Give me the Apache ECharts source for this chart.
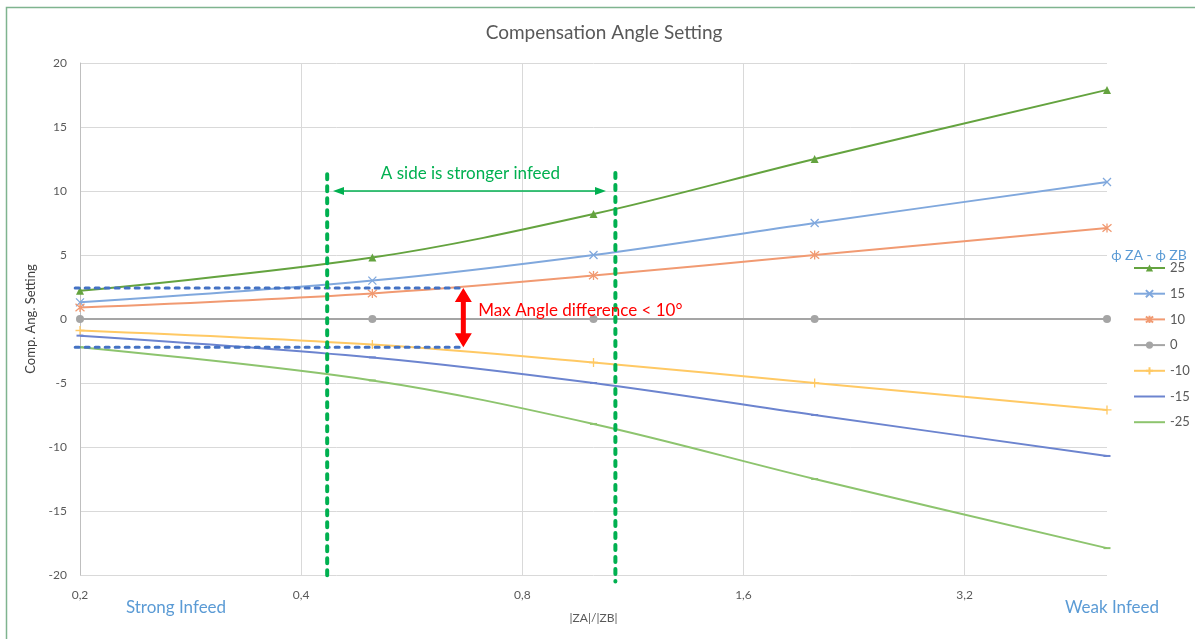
<!DOCTYPE html>
<html>
<head>
<meta charset="utf-8">
<script src="https://cdn.jsdelivr.net/npm/echarts@6/dist/echarts.min.js"></script>
<style>
html,body{margin:0;padding:0;background:#fff;}
#c{width:1195px;height:639px;}
</style>
</head>
<body>
<div id="c"></div>
<script>
// ---- data ----
const xValues = [0.2, 0.5, 1, 2, 5];
const seriesNames = ['25', '15', '10', '0', '-10', '-15', '-25'];
const s25  = [2.2, 4.8, 8.2, 12.5, 17.9];
const s15  = [1.3, 3.0, 5.0, 7.5, 10.7];
const s10  = [0.9, 2.0, 3.4, 5.0, 7.1];
const s0   = [0, 0, 0, 0, 0];
const sm10 = [-0.9, -2.0, -3.4, -5.0, -7.1];
const sm15 = [-1.3, -3.0, -5.0, -7.5, -10.7];
const sm25 = [-2.2, -4.8, -8.2, -12.5, -17.9];
const xTickBase = 0.2;   // ticks at 0,2 0,4 0,8 1,6 3,2 (log base 2)
const xMax = 5;
const yMin = -20, yMax = 20, yStep = 5;

// annotations (data coordinates)
const greenVLines = [{x: 0.434, top: 11.3, bottom: -20.5}, {x: 1.071, top: 11.4, bottom: -20.5}];
const greenArrow = {x1: 0.442, x2: 1.04, y: 10};
const greenText = {x: 0.68, y: 11.4, text: 'A side is stronger infeed'};
const blueHLines = [{x1: 0.197, x2: 0.665, y: 2.42}, {x1: 0.197, x2: 0.665, y: -2.2}];
const redArrow = {x: 0.665, y1: 2.42, y2: -2.2};
const redText = {x: 0.697, y: 0.7, text: 'Max Angle difference < 10°'};

const tx = x => Math.log2(x / xTickBase);

const FONT = 'Lato, "Open Sans", sans-serif';
const colors = ['#64A33F', '#80A8DD', '#F19A72', '#A5A5A5', '#FFC964', '#6C84CF', '#8DC46E'];
const X_PATH = 'path://M0,0L10,10M10,0L0,10';
const STAR_PATH = 'path://M0,0L10,10M10,0L0,10M5,-1L5,11';
const PLUS_PATH = 'path://M5,0L5,10M0,5L10,5';
const LINE_ICON = 'path://M0,0L31,0L31,2L0,2Z';
const symbols = [
  {symbol: 'triangle', size: 8},
  {symbol: X_PATH, size: 8, stroke: true},
  {symbol: STAR_PATH, size: 9, stroke: true},
  {symbol: 'circle', size: 8},
  {symbol: PLUS_PATH, size: 9, stroke: true},
  {symbol: 'rect', size: [7, 2], legendIcon: LINE_ICON},
  {symbol: 'rect', size: [7, 2], legendIcon: LINE_ICON}
];
const allVals = [s25, s15, s10, s0, sm10, sm15, sm25];

const chart = echarts.init(document.getElementById('c'), null, {renderer: 'canvas'});

const series = allVals.map((vals, i) => {
  const sym = symbols[i];
  const itemStyle = sym.stroke
    ? {color: colors[i], borderColor: colors[i], borderWidth: 1.3}
    : {color: colors[i]};
  return {
    name: seriesNames[i],
    type: 'line',
    smooth: 0.35,
    data: xValues.map((x, j) => [tx(x), vals[j]]),
    symbol: sym.symbol,
    symbolSize: sym.size,
    showSymbol: true,
    lineStyle: {color: colors[i], width: 2},
    itemStyle: itemStyle,
    emphasis: {disabled: true},
    animation: false,
    z: 3
  };
});

chart.setOption({
  animation: false,
  grid: {left: 80, right: 88, top: 63, bottom: 64, containLabel: false},
  legend: {
    orient: 'vertical', left: 1128, top: 256.5,
    itemWidth: 31, itemHeight: 9, itemGap: 12.7,
    data: seriesNames.map((n, i) => symbols[i].legendIcon ? {name: n, icon: symbols[i].legendIcon} : {name: n}),
    textStyle: {fontFamily: FONT, fontSize: 13, color: '#595959'},
    selectedMode: false
  },
  xAxis: {
    type: 'value', min: 0, max: tx(xMax), interval: 1,
    name: '|ZA|/|ZB|', nameLocation: 'middle', nameGap: 37,
    nameTextStyle: {fontFamily: FONT, fontSize: 12, color: '#595959'},
    axisLine: {show: false, onZero: false},
    axisTick: {show: false},
    axisLabel: {
      fontFamily: FONT, fontSize: 12, color: '#595959', margin: 14,
      showMaxLabel: false,
      formatter: v => (xTickBase * Math.pow(2, v)).toFixed(1).replace('.', ',')
    },
    splitLine: {show: true, showMaxLine: false, lineStyle: {color: '#d9d9d9', width: 1}}
  },
  yAxis: {
    type: 'value', min: yMin, max: yMax, interval: yStep,
    name: 'Comp. Ang. Setting', nameLocation: 'middle', nameGap: 43,
    nameTextStyle: {fontFamily: FONT, fontSize: 13, color: '#404040'},
    axisLine: {show: true, onZero: false, lineStyle: {color: '#bfbfbf', width: 1}},
    axisTick: {show: false},
    axisLabel: {fontFamily: FONT, fontSize: 12, color: '#595959', margin: 13},
    splitLine: {show: true, lineStyle: {color: '#d9d9d9', width: 1}}
  },
  series: series
});

const px = (x, y) => chart.convertToPixel({gridIndex: 0}, [tx(x), y]);

const graphics = [];
// outer border
graphics.push({type: 'rect', shape: {x: 6.5, y: 7.5, width: 1400, height: 1000},
  style: {fill: null, stroke: '#7FB48F', lineWidth: 1.5}, z: 0, silent: true});
// title
graphics.push({type: 'text', x: 604, y: 33,
  style: {text: 'Compensation Angle Setting', fill: '#595959', font: '19px ' + FONT, align: 'center', verticalAlign: 'middle'}, z: 10});

// blue dotted horizontals
blueHLines.forEach(l => {
  const a = px(l.x1, l.y), b = px(l.x2, l.y);
  graphics.push({type: 'line', shape: {x1: a[0], y1: a[1], x2: b[0], y2: b[1]},
    style: {stroke: '#4472C4', lineWidth: 3, lineDash: [4, 6], lineCap: 'round'}, z: 10});
});
// green dotted verticals
greenVLines.forEach(l => {
  const a = px(l.x, l.top), b = px(l.x, l.bottom);
  graphics.push({type: 'line', shape: {x1: a[0], y1: a[1], x2: b[0], y2: b[1]},
    style: {stroke: '#00B050', lineWidth: 4, lineDash: [5, 7], lineCap: 'round'}, z: 10});
});
// green double arrow
(function () {
  const a = px(greenArrow.x1, greenArrow.y), b = px(greenArrow.x2, greenArrow.y);
  const y = a[1], L = 11, W = 4;
  graphics.push({type: 'line', shape: {x1: a[0] + 4, y1: y, x2: b[0] - 4, y2: y},
    style: {stroke: '#00B050', lineWidth: 1.3}, z: 10});
  graphics.push({type: 'polygon', shape: {points: [[a[0], y], [a[0] + L, y - W], [a[0] + L, y + W]]},
    style: {fill: '#00B050'}, z: 10});
  graphics.push({type: 'polygon', shape: {points: [[b[0], y], [b[0] - L, y - W], [b[0] - L, y + W]]},
    style: {fill: '#00B050'}, z: 10});
  const t = px(greenText.x, greenText.y);
  graphics.push({type: 'text', x: t[0], y: t[1],
    style: {text: greenText.text, fill: '#00B050', font: '17px ' + FONT, align: 'center', verticalAlign: 'middle'}, z: 10});
})();
// red double arrow
(function () {
  const a = px(redArrow.x, redArrow.y1), b = px(redArrow.x, redArrow.y2);
  const x = a[0], t = a[1], bt = b[1], H = 14, HW = 8.5, SW = 2.5;
  graphics.push({type: 'polygon', shape: {points: [
    [x, t], [x + HW, t + H], [x + SW, t + H], [x + SW, bt - H], [x + HW, bt - H],
    [x, bt], [x - HW, bt - H], [x - SW, bt - H], [x - SW, t + H], [x - HW, t + H]
  ]}, style: {fill: '#FF0000'}, z: 11});
  const p = px(redText.x, redText.y);
  graphics.push({type: 'text', x: p[0], y: p[1],
    style: {text: redText.text, fill: '#FF0000', font: '17px ' + FONT, align: 'left', verticalAlign: 'middle'}, z: 10});
})();
// legend title
graphics.push({type: 'text', x: 1149, y: 255,
  style: {text: 'ϕ ZA - ϕ ZB', fill: '#5B9BD5', font: '14px ' + FONT, align: 'center', verticalAlign: 'middle'}, z: 10});
// infeed labels
graphics.push({type: 'text', x: 176, y: 608,
  style: {text: 'Strong Infeed', fill: '#5B9BD5', font: '17px ' + FONT, align: 'center', verticalAlign: 'middle'}, z: 10});
graphics.push({type: 'text', x: 1112, y: 608,
  style: {text: 'Weak Infeed', fill: '#5B9BD5', font: '17px ' + FONT, align: 'center', verticalAlign: 'middle'}, z: 10});

chart.setOption({graphic: {elements: graphics}});
</script>
</body>
</html>
